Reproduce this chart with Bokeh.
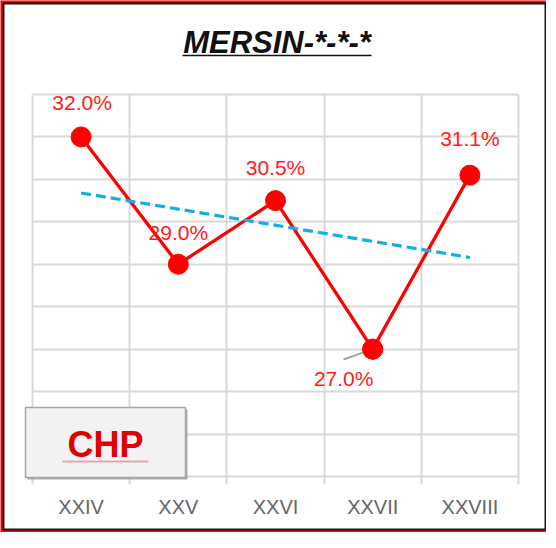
import numpy as np
from bokeh.plotting import figure
from bokeh.models import Grid, FixedTicker, ColumnDataSource, Range1d
from bokeh.core.properties import value
from bokeh.embed import file_html
from bokeh.resources import INLINE

# ---------------- data ----------------
categories = ["XXIV", "XXV", "XXVI", "XXVII", "XXVIII"]
shares = [32.0, 29.0, 30.5, 27.0, 31.1]
share_labels = ["32.0%", "29.0%", "30.5%", "27.0%", "31.1%"]
y_gridlines = [24, 25, 26, 27, 28, 29, 30, 31, 32, 33]
title_text = "MERSIN-*-*-*"
party_text = "CHP"

# ---------------- layout (page pixels of the reference) ----------------
W, H = 546, 532
PAGE = 8
X_C0, X_STEP = 88.6, 97.2            # centre of first category, px per category
Y_BOT_PX, Y_TOP_PX = 484.0, 102.0    # pixel rows of lowest / highest gridline
Y_STEP = (Y_BOT_PX - Y_TOP_PX) / (y_gridlines[-1] - y_gridlines[0])


def px2x(px):
    return (px - X_C0) / X_STEP


def py2y(py):
    return y_gridlines[0] + (Y_BOT_PX - py) / Y_STEP


idx = list(range(len(categories)))
x_bounds = [i - 0.5 for i in range(len(categories) + 1)]

p = figure(width=W, height=H,
           x_range=Range1d(px2x(PAGE), px2x(PAGE + W)),
           y_range=Range1d(py2y(PAGE + H), py2y(PAGE)),
           x_axis_type=None, y_axis_type=None,
           toolbar_location=None, output_backend="svg",
           min_border=0, background_fill_color="white",
           border_fill_color="white", outline_line_color=None)

# ---------------- grid ----------------
grid_color = "#D9D9D9"
has_cross = "cross_bounds" in Grid.properties()
if has_cross:
    vg = Grid(dimension=0, ticker=FixedTicker(ticks=x_bounds),
              cross_bounds=(py2y(492), y_gridlines[-1]),
              grid_line_color=grid_color, grid_line_width=2)
    hg = Grid(dimension=1, ticker=FixedTicker(ticks=y_gridlines),
              cross_bounds=(x_bounds[0], x_bounds[-1]),
              grid_line_color=grid_color, grid_line_width=2)
    p.add_layout(vg)
    p.add_layout(hg)
else:
    p.segment(x0=x_bounds, x1=x_bounds, y0=[py2y(492)] * len(x_bounds),
              y1=[y_gridlines[-1]] * len(x_bounds), line_color=grid_color, line_width=2)
    p.segment(x0=[x_bounds[0]] * len(y_gridlines), x1=[x_bounds[-1]] * len(y_gridlines),
              y0=y_gridlines, y1=y_gridlines, line_color=grid_color, line_width=2)

# ---------------- frame ----------------
p.quad(left=px2x(7), right=px2x(562), top=py2y(7), bottom=py2y(541),
       fill_color=None, line_color="#FF0000", line_width=7)
p.quad(left=px2x(11), right=px2x(553), top=py2y(11), bottom=py2y(537),
       fill_color=None, line_color="#1A1A1A", line_width=2)

# ---------------- series ----------------
src = ColumnDataSource(dict(x=idx, y=shares, lab=share_labels,
                            dx=[1, 0, 0, -29, 0], dy=[-34, -32, -33, 29, -37]))
p.line("x", "y", source=src, line_color="#FF0000", line_width=3.3)
p.scatter("x", "y", source=src, size=20, fill_color="#FF0000", line_color="#FF0000")

# linear trend line from the data
k, b = np.polyfit(idx, shares, 1)
tx = [idx[0], idx[-1]]
p.line(tx, [k * t + b for t in tx], line_color="#12AEEA", line_width=3.2, line_dash="10 5")

# leader line for the low label
p.segment(x0=[px2x(351)], y0=[py2y(367)], x1=[idx[3]], y1=[shares[3]],
          line_color="#A6A6A6", line_width=2)
p.scatter([idx[3]], [shares[3]], size=20, fill_color="#FF0000", line_color="#FF0000")

p.text("x", "y", text="lab", source=src, x_offset="dx", y_offset="dy",
       text_font=value("Liberation Sans"), text_font_size="21px",
       text_color="#FF1A1A", text_align="center", text_baseline="middle")

# category labels
p.text(idx, [py2y(514)] * len(idx), text=categories,
       text_font=value("Liberation Sans"), text_font_size="20px",
       text_color="#666666", text_align="center", text_baseline="middle")

# ---------------- title ----------------
p.text([px2x(284.5)], [py2y(50)], text=[title_text],
       text_font=value("Liberation Sans"), text_font_size="31px",
       text_font_style="bold italic", text_color="#111111",
       text_align="center", text_baseline="middle")
p.segment(x0=[px2x(190)], x1=[px2x(379)], y0=[py2y(63)], y1=[py2y(63)],
          line_color="#111111", line_width=1.5)

# ---------------- party box ----------------
p.quad(left=px2x(35), right=px2x(195), top=py2y(417), bottom=py2y(487),
       fill_color="#8C8C8C", fill_alpha=0.7, line_color=None)
p.quad(left=px2x(33), right=px2x(193), top=py2y(415), bottom=py2y(485),
       fill_color="#F2F2F2", line_color="#A6A6A6", line_width=1.5)
p.segment(x0=[px2x(70)], x1=[px2x(156)], y0=[py2y(469)], y1=[py2y(469)],
          line_color="#E9A3AA", line_width=2)
p.text([px2x(113)], [py2y(452)], text=[party_text],
       text_font=value("Liberation Sans"), text_font_size="36px",
       text_font_style="bold", text_color="#E00000",
       text_align="center", text_baseline="middle")

open("out.html", "w").write(file_html(p, INLINE))
